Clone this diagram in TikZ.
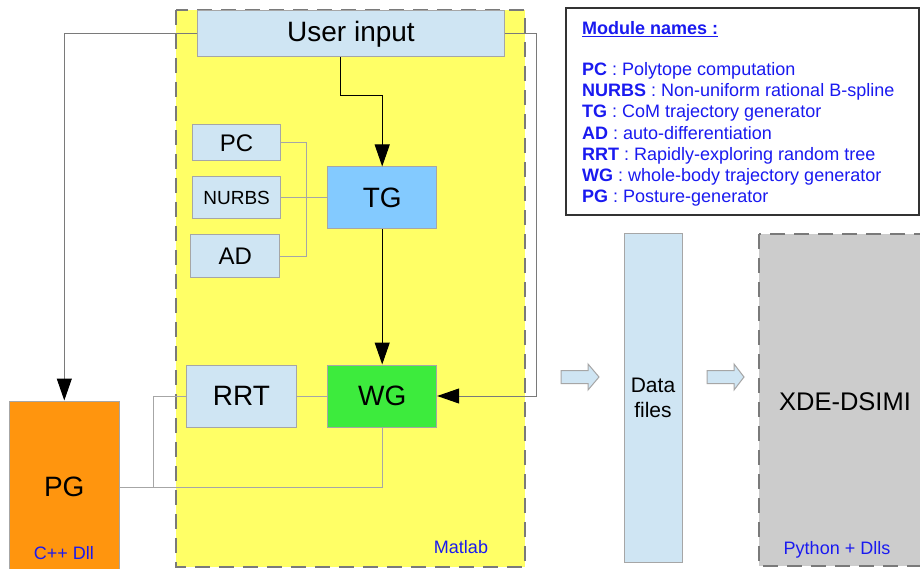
\documentclass[tikz,border=0pt]{standalone}
\usepackage{fontspec}
\setmainfont{Liberation Sans}
\usetikzlibrary{arrows.meta}
\definecolor{lblue}{HTML}{CFE5F3}
\definecolor{tgblue}{HTML}{83CAFF}
\definecolor{wggreen}{HTML}{3DEB3D}
\definecolor{pgorange}{HTML}{FF950E}
\definecolor{myyellow}{HTML}{FFFF66}
\definecolor{xgray}{HTML}{CCCCCC}
\definecolor{dgray}{HTML}{7A7A7A}
\definecolor{lgray}{HTML}{A6A6A6}
\definecolor{txtblue}{HTML}{1A1AF0}
\newcommand\fsz[2]{\fontsize{#1}{#2}\selectfont}
\begin{document}
\begin{tikzpicture}[x=1pt,y=-1pt,
  box/.style={draw=lgray, line width=1pt, inner sep=0pt, anchor=center, text=black},
  bigtxt/.style={font=\fsz{28}{34}},
  bluetxt/.style={text=txtblue, font=\fsz{18}{22}, inner sep=0pt},
  legtxt/.style={text=txtblue, font=\fsz{18}{22}, inner sep=0pt, anchor=base west},
  dashbox/.style={draw=dgray, line width=2.5pt, dash pattern=on 15pt off 9pt},
  tip/.style={-{Triangle[width=15pt,length=22pt,color=black]}},
  blkline/.style={draw=black, line width=1pt},
  grayline/.style={draw=dgray, line width=1pt},
  thinline/.style={draw=lgray, line width=1pt},
  blockarrow/.style={draw=lgray, line width=1pt, fill=lblue}]
\useasboundingbox (0,0) rectangle (920,569);
\fill[white] (0,0) rectangle (920,569);

% Matlab region
\draw[dashbox, fill=myyellow] (176,10) rectangle (525,567);
% XDE region
\draw[dashbox, fill=xgray] (759,234) rectangle (932,566);

% nodes
\node[box, fill=lblue, bigtxt, minimum width=307pt, minimum height=46pt] (ui) at (351,34) {User input};
\node[box, fill=lblue, font=\fsz{24}{28}, minimum width=88pt, minimum height=36pt] (pc) at (236.6,143) {PC};
\node[box, fill=lblue, font=\fsz{19}{23}, minimum width=88pt, minimum height=42pt] (nurbs) at (236.6,198) {NURBS};
\node[box, fill=lblue, font=\fsz{24}{28}, minimum width=89pt, minimum height=42pt] (ad) at (235.2,256) {AD};
\node[box, fill=tgblue, bigtxt, minimum width=109pt, minimum height=62pt] (tg) at (382.2,198) {TG};
\node[box, fill=wggreen, bigtxt, minimum width=109pt, minimum height=62pt] (wg) at (382.2,396) {WG};
\node[box, fill=lblue, bigtxt, minimum width=110pt, minimum height=62pt] (rrt) at (241.4,396) {RRT};
\node[box, fill=pgorange, bigtxt, minimum width=110pt, minimum height=172pt] (pg) at (64.3,487) {PG};
\node[bluetxt] (cdll) at (64,553) {C++ Dll};
\node[bluetxt] (matlab) at (461,547) {Matlab};
\node[box, fill=lblue, font=\fsz{21}{25}, align=center, minimum width=58pt, minimum height=328pt] (data) at (653,398) {Data\\files};
\node[inner sep=0pt, font=\fsz{25.5}{30}] (xde) at (845,402) {XDE-DSIMI};
\node[bluetxt] (python) at (837,550) {Python + Dlls};

% legend
\node[draw=black!80, line width=2pt, fill=white, minimum width=353pt, minimum height=207pt, inner sep=0pt] (legend) at (742.5,111.5) {};
\node[legtxt] (l0) at (582,34.5) {\underline{\textbf{Module names :}}};
\node[legtxt] (l1) at (582,75.5) {\textbf{PC} : Polytope computation};
\node[legtxt] (l2) at (582,96.7) {\textbf{NURBS} : Non-uniform rational B-spline};
\node[legtxt] (l3) at (582,117.9) {\textbf{TG} : CoM trajectory generator};
\node[legtxt] (l4) at (582,139.1) {\textbf{AD} : auto-differentiation};
\node[legtxt] (l5) at (582,160.3) {\textbf{RRT} : Rapidly-exploring random tree};
\node[legtxt] (l6) at (582,181.5) {\textbf{WG} : whole-body trajectory generator};
\node[legtxt] (l7) at (582,202.7) {\textbf{PG} : Posture-generator};

% block arrows
\draw[blockarrow] (561,370.5) -- (588,370.5) -- (588,364) -- (599,377) -- (588,390) -- (588,383.5) -- (561,383.5) -- cycle;
\draw[blockarrow] (707,370.5) -- (734,370.5) -- (734,364) -- (744,377) -- (734,390) -- (734,383.5) -- (707,383.5) -- cycle;

% connectors
\coordinate (k1) at (340,96);
\coordinate (k2) at (536.4,0);
\coordinate (k3) at (306.8,0);
\coordinate (k4) at (153.2,487);
\draw[grayline, tip] (ui.west) -| (pg.north);
\draw[grayline, tip] (ui.east) -| (k2 |- wg.east) -- (wg.east);
\draw[blkline, tip] (k1 |- ui.south) -- (k1) -| (tg.north);
\draw[blkline, tip] (tg.south) -- (wg.north);
\draw[thinline] (pc.east) -| (k3 |- ad.east) -- (ad.east);
\draw[thinline] (nurbs.east) -- (nurbs.east -| tg.west);
\draw[thinline] (rrt.east) -- (wg.west);
\draw[thinline] (rrt.west) -| (k4);
\draw[thinline] (pg.east |- k4) -| (wg.south);
\end{tikzpicture}
\end{document}
